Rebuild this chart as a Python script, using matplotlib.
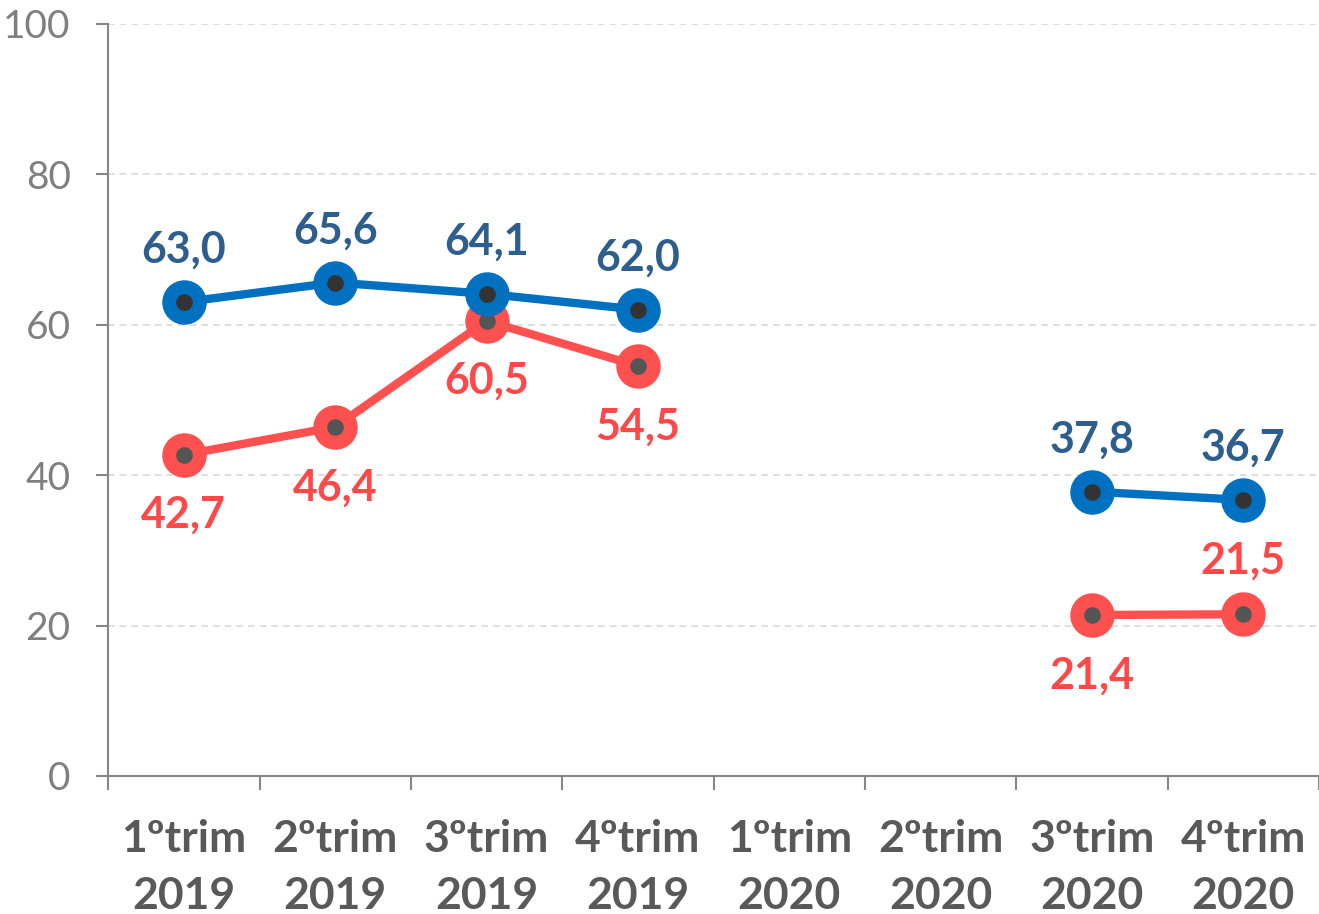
import numpy as np
import matplotlib.pyplot as plt

categories = ["1ºtrim\n2019", "2ºtrim\n2019", "3ºtrim\n2019", "4ºtrim\n2019",
              "1ºtrim\n2020", "2ºtrim\n2020", "3ºtrim\n2020", "4ºtrim\n2020"]
blue_vals = [63.0, 65.6, 64.1, 62.0, np.nan, np.nan, 37.8, 36.7]
red_vals = [42.7, 46.4, 60.5, 54.5, np.nan, np.nan, 21.4, 21.5]
# label placement: +1 above the point, -1 below
blue_pos = [1, 1, 1, 1, 0, 0, 1, 1]
red_pos = [-1, -1, -1, -1, 0, 0, -1, 1]

plt.rcParams['font.family'] = ['Lato', 'DejaVu Sans']

fig = plt.figure(figsize=(13.19, 9.14), dpi=100)
ax = fig.add_axes([0.082, 0.151, 0.918, 0.823])

x = np.arange(len(categories))
blue = "#0070C0"
red = "#FF5050"

ax.plot(x, red_vals, color=red, lw=6, marker="o", ms=31, mfc=red, mec=red, zorder=3)
ax.plot(x, red_vals, ls="none", marker="o", ms=12, mfc="#555555", mec="none", zorder=3.1)
ax.plot(x, blue_vals, color=blue, lw=6, marker="o", ms=31, mfc=blue, mec=blue, zorder=4)
ax.plot(x, blue_vals, ls="none", marker="o", ms=12, mfc="#333333", mec="none", zorder=4.1)

for xi, v, p in zip(x, blue_vals, blue_pos):
    if np.isnan(v):
        continue
    ax.annotate(f"{v:.1f}".replace(".", ","), (xi, v), xytext=(0, 23 * p),
                textcoords="offset points", ha="center", va="bottom" if p > 0 else "top",
                fontsize=31, fontweight="bold", color="#2E5E8E", zorder=5)
for xi, v, p in zip(x, red_vals, red_pos):
    if np.isnan(v):
        continue
    off = 29 if p < 0 else 24
    ax.annotate(f"{v:.1f}".replace(".", ","), (xi, v), xytext=(0, off * p),
                textcoords="offset points", ha="center", va="bottom" if p > 0 else "top",
                fontsize=31, fontweight="bold", color="#FF4848", zorder=5)

ax.set_xlim(-0.5, len(categories) - 0.5)
ax.set_ylim(0, 100)
ax.set_yticks([0, 20, 40, 60, 80, 100])
ax.set_xticks(x)
ax.set_xticklabels(categories, fontsize=32, fontweight="bold", color="#595959", linespacing=1.5)
ax.set_xticks(np.arange(-0.5, len(categories), 1), minor=True)
ax.tick_params(axis="x", which="major", length=0, pad=31)
ax.tick_params(axis="x", which="minor", length=10, width=1.5, color="#868686")
ax.tick_params(axis="y", labelsize=28, labelcolor="#7F7F7F", length=9, width=1.5,
               color="#868686", pad=18)

ax.yaxis.grid(True, ls=(0, (4, 3)), color="#D9D9D9", lw=1.2)
ax.set_axisbelow(True)
for s in ["top", "right"]:
    ax.spines[s].set_visible(False)
for s in ["left", "bottom"]:
    ax.spines[s].set_color("#868686")
    ax.spines[s].set_linewidth(1.5)

fig.savefig("out.png", dpi=100)
